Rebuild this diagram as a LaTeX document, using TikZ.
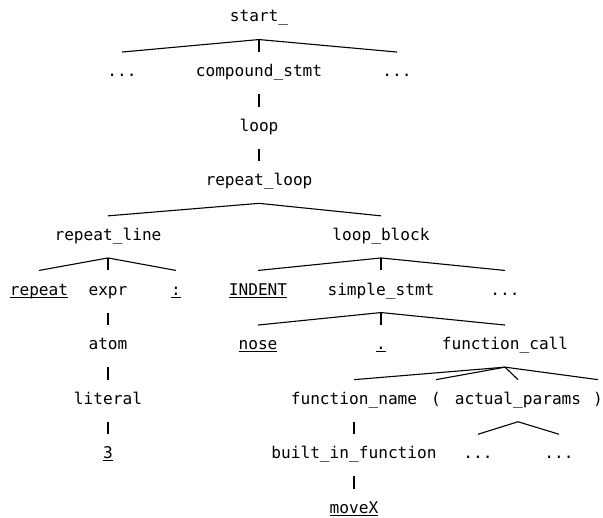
\documentclass[tikz,border=0pt]{standalone}
\usepackage{fontspec}
\setmonofont{DejaVu Sans Mono}
% terminal symbols are underlined
\newcommand\tokline[1]{\setbox0\hbox{#1}\rlap{\rule[-2.6bp]{\wd0}{1.1bp}}\box0}

\begin{document}
\begin{tikzpicture}[x=1bp, y=-1bp, line width=1.1bp,
    every node/.style={font=\ttfamily\fontsize{16.2}{20}\selectfont, anchor=base,
        inner sep=0pt, text height=24bp, text depth=17bp}]
\useasboundingbox (0,0) rectangle (603,518);

\node (start) at (259,22) {start\_};

\node (dotsL) at (122,76.6) {...};
\node (cmpd) at (259,76.6) {compound\_stmt};
\node (dotsR) at (397,76.6) {...};

\node (loop) at (259,131.2) {loop};
\node (rloop) at (259,185.8) {repeat\_loop};

\node (rline) at (108,240.4) {repeat\_line};
\node (lblock) at (381,240.4) {loop\_block};

\node (rep) at (39,295) {\tokline{repeat}};
\node (expr) at (108,295) {expr};
\node (colon) at (176,295) {\tokline{:}};
\node (indent) at (258,295) {\tokline{INDENT}};
\node (sstmt) at (381,295) {simple\_stmt};
\node (dotsS) at (505,295) {...};

\node (atom) at (108,349.6) {atom};
\node (nose) at (258,349.6) {\tokline{nose}};
\node (dot) at (381,349.6) {\tokline{.}};
\node (fcall) at (505,349.6) {function\_call};

\node (literal) at (108,404.2) {literal};
\node (fname) at (354,404.2) {function\_name};
\node (lpar) at (436,404.2) {(};
\node (aparams) at (518,404.2) {actual\_params};
\node (rpar) at (598,404.2) {)};

\node (three) at (108,458.8) {\tokline{3}};
\node (builtin) at (354,458.8) {built\_in\_function};
\node (dotsA) at (478,458.8) {...};
\node (dotsB) at (559,458.8) {...};

\node (movex) at (354,513.4) {\tokline{moveX}};

% parse tree edges
\foreach \p/\c in {start/dotsL, start/cmpd, start/dotsR, cmpd/loop, loop/rloop,
    rloop/rline, rloop/lblock, rline/rep, rline/expr, rline/colon,
    lblock/indent, lblock/sstmt, lblock/dotsS, expr/atom, atom/literal, literal/three,
    sstmt/nose, sstmt/dot, sstmt/fcall, fcall/fname, fcall/lpar, fcall/aparams, fcall/rpar,
    fname/builtin, builtin/movex, aparams/dotsA, aparams/dotsB}
  \draw (\p.south) -- (\c.north);
\end{tikzpicture}
\end{document}
